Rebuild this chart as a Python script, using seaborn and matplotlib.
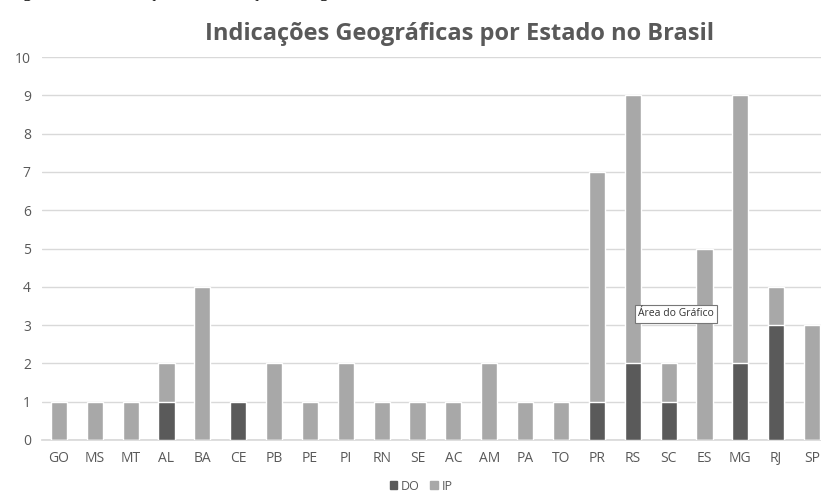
import matplotlib
matplotlib.use("Agg")
import matplotlib.pyplot as plt
import matplotlib.patches as mpatches
import seaborn as sns
import pandas as pd

# dados
estados = ['GO', 'MS', 'MT', 'AL', 'BA', 'CE', 'PB', 'PE', 'PI', 'RN', 'SE',
           'AC', 'AM', 'PA', 'TO', 'PR', 'RS', 'SC', 'ES', 'MG', 'RJ', 'SP']
do_vals = [0, 0, 0, 1, 0, 1, 0, 0, 0, 0, 0, 0, 0, 0, 0, 1, 2, 1, 0, 2, 3, 0]
ip_vals = [1, 1, 1, 1, 4, 0, 2, 1, 2, 1, 1, 1, 2, 1, 1, 6, 7, 1, 5, 7, 1, 3]

df = pd.DataFrame({'estado': estados, 'DO': do_vals, 'IP': ip_vals})
df['total'] = df['DO'] + df['IP']

cor_do = '#5a5a5a'
cor_ip = '#a8a8a8'
cinza = '#595959'

sns.set_theme(style='white')
plt.rcParams['font.family'] = ['Open Sans', 'DejaVu Sans']

fig = plt.figure(figsize=(8.21, 4.92), dpi=100)
ax = fig.add_axes([0.051, 0.1057, 0.949, 0.7783])

# barras empilhadas: total (IP por cima) e DO na base
sns.barplot(data=df, x='estado', y='total', color=cor_ip, width=0.45,
            saturation=1, ax=ax, zorder=3)
sns.barplot(data=df, x='estado', y='DO', color=cor_do, width=0.45,
            saturation=1, ax=ax, zorder=4)

ax.set_xlim(-0.474, 21.25)
ax.set_ylim(0, 10)
ax.set_yticks(range(0, 11))
ax.yaxis.grid(True, color='#d9d9d9', linewidth=1, zorder=0)
ax.set_axisbelow(True)
for s in ['top', 'right', 'left']:
    ax.spines[s].set_visible(False)
ax.spines['bottom'].set_color('#d9d9d9')
ax.set_xlabel('')
ax.set_ylabel('')
ax.tick_params(axis='both', length=0, labelsize=10, colors=cinza, pad=8)

# título
fig.text(0.56, 0.93, 'Indicações Geográficas por Estado no Brasil',
         ha='center', va='center', fontsize=17, fontweight='bold', color=cinza)

# legenda
handles = [mpatches.Patch(color=cor_do, label='DO'),
           mpatches.Patch(color=cor_ip, label='IP')]
fig.legend(handles=handles, loc='center', bbox_to_anchor=(0.513, 0.012),
           ncol=2, frameon=False, fontsize=9, handlelength=0.6,
           handleheight=0.6, handletextpad=0.3, columnspacing=0.8,
           labelcolor=cinza)

# dica de tela
fig.text(0.777, 0.362, 'Área do Gráfico', fontsize=7.5, color='#333333',
         va='center', ha='left',
         bbox=dict(boxstyle='square,pad=0.3', facecolor='white',
                   edgecolor='#777777', linewidth=0.8))

# legenda da figura cortada no topo
fig.text(0.01, 1.016, 'Figura 2 – Distribuição das Indicações Geográficas',
         ha='left', va='center', fontsize=13, color='black',
         family=['Liberation Serif', 'DejaVu Serif'])

fig.savefig('out.png', dpi=100)
